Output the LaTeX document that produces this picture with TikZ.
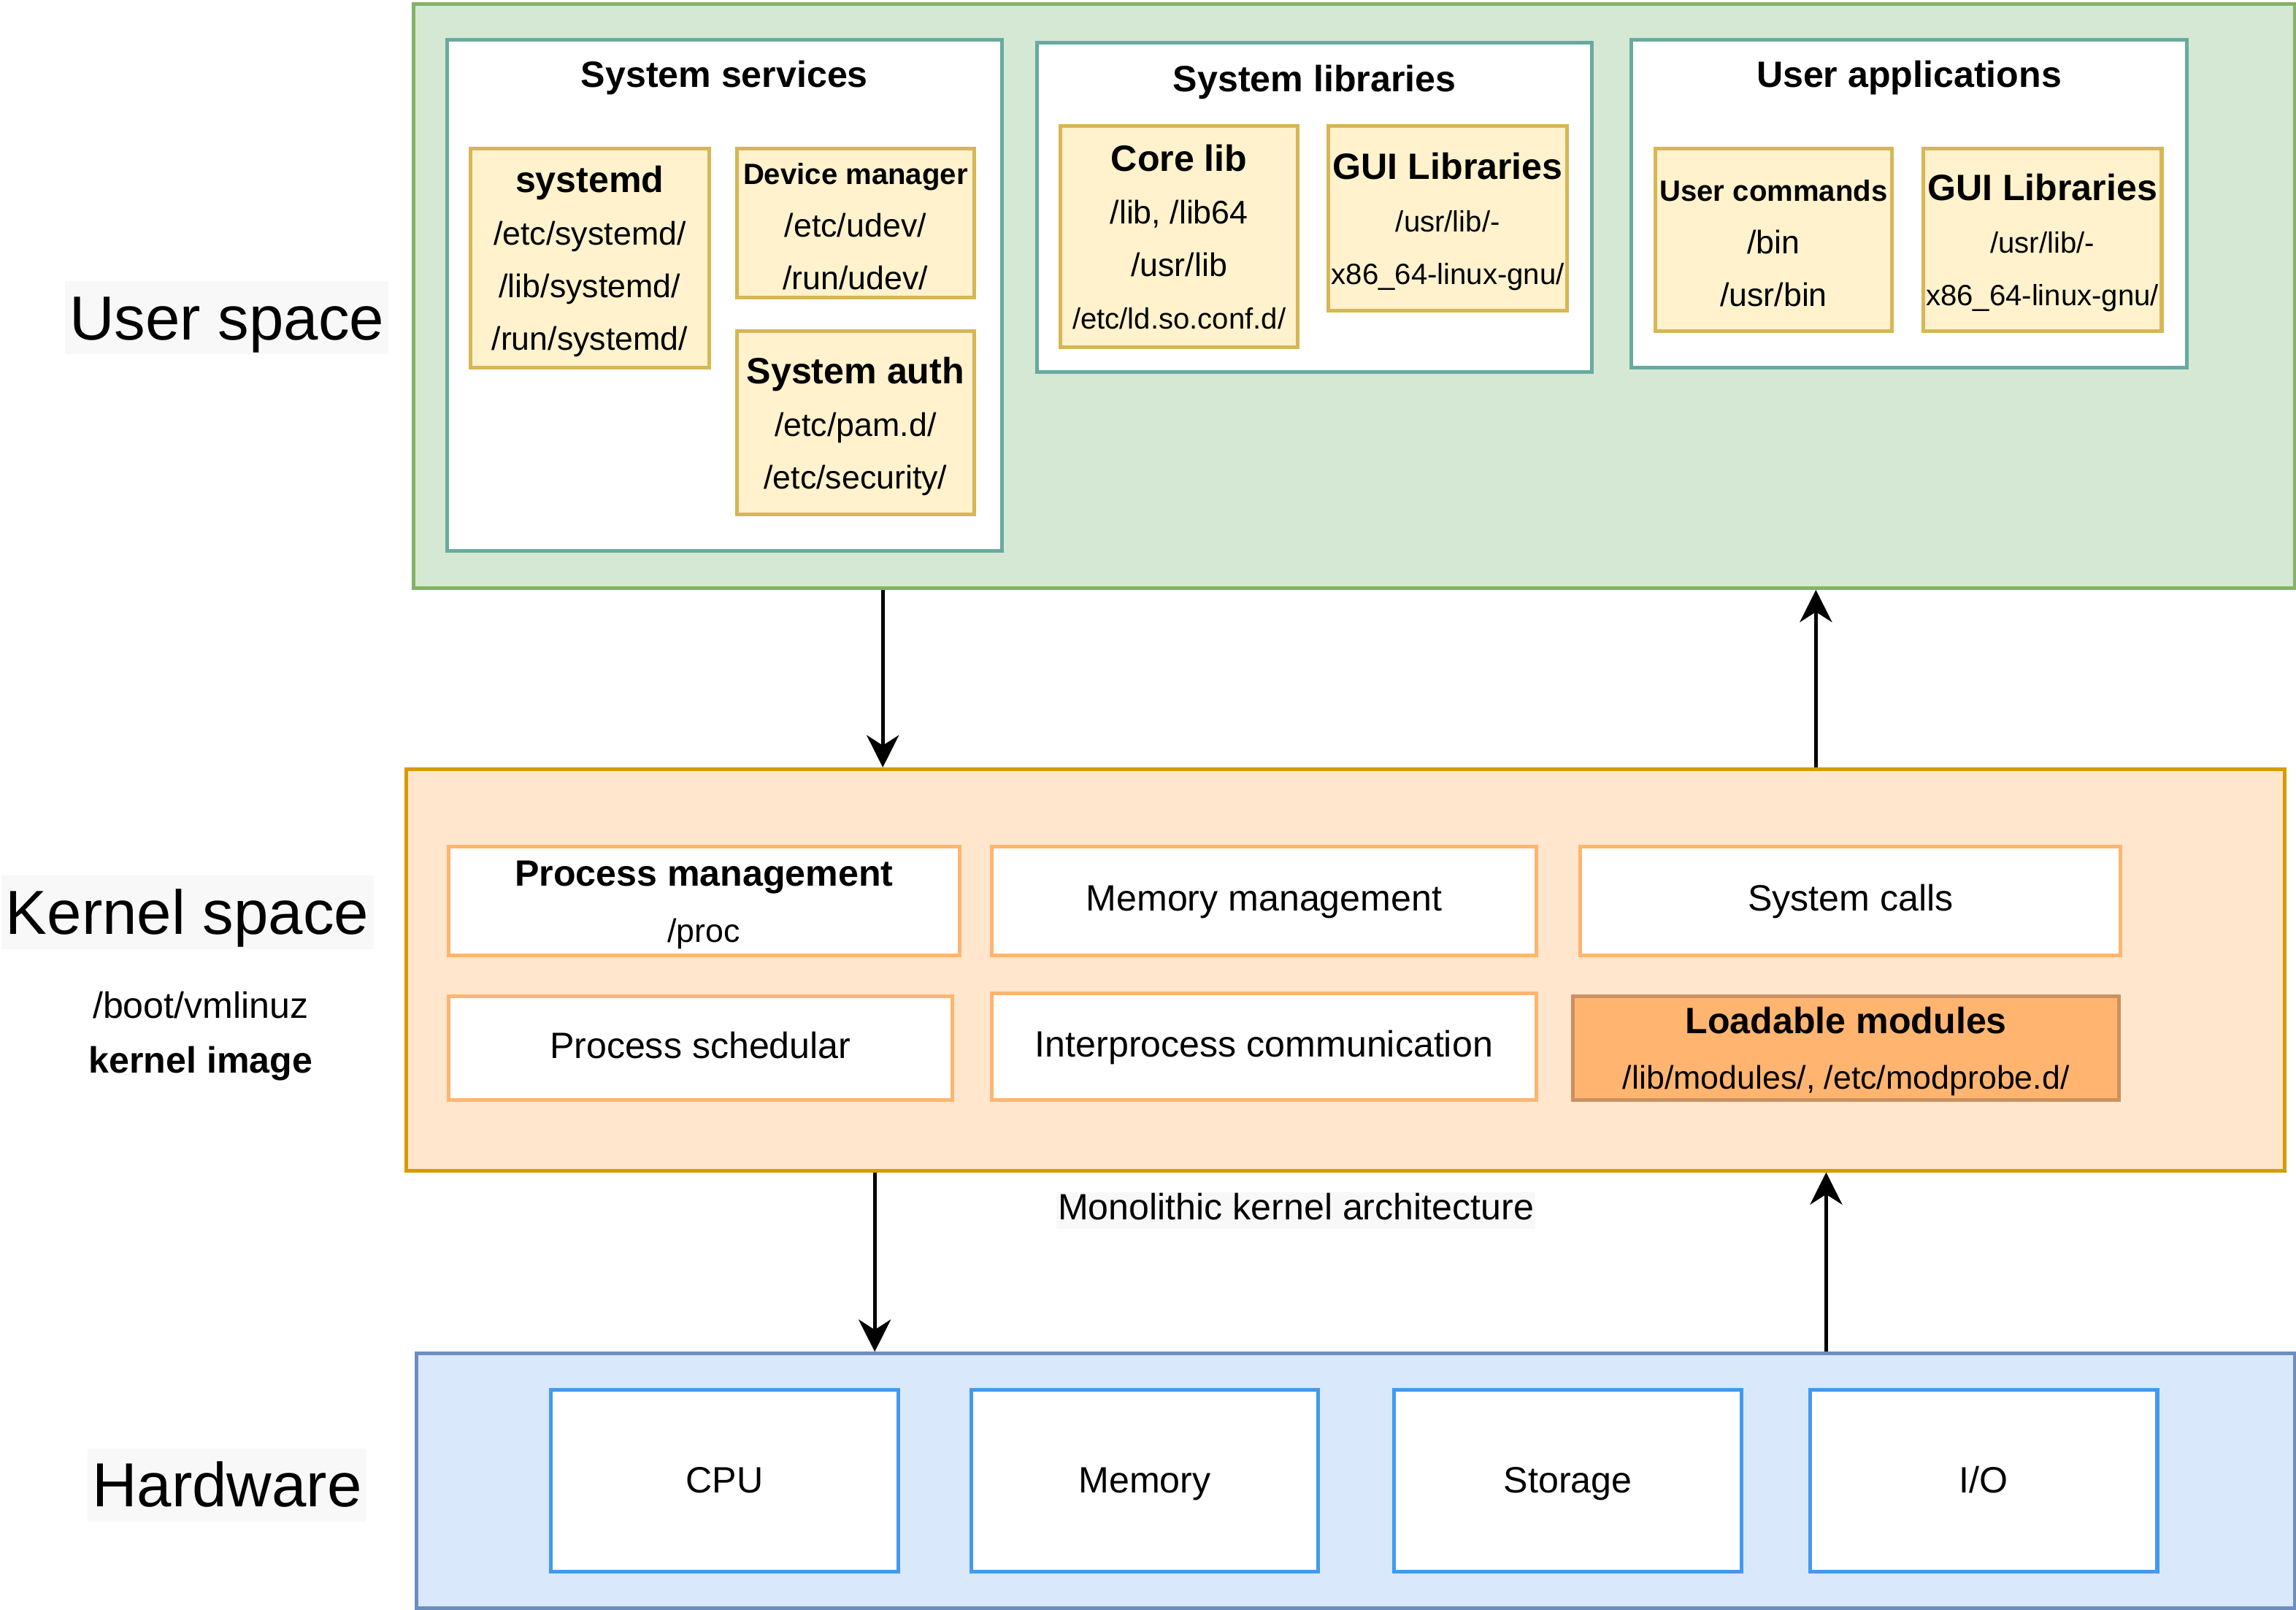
\documentclass[tikz,border=0pt]{standalone}
\usepackage{fontspec}
\setmainfont{Liberation Sans}
\usetikzlibrary{arrows.meta,calc}

\definecolor{usfill}{HTML}{D5E8D4}
\definecolor{usline}{HTML}{82B366}
\definecolor{grpline}{HTML}{67AB9F}
\definecolor{yelfill}{HTML}{FFF2CC}
\definecolor{yelline}{HTML}{D6B656}
\definecolor{ksfill}{HTML}{FFE6CC}
\definecolor{ksline}{HTML}{D79B00}
\definecolor{kinline}{HTML}{FFB570}
\definecolor{modfill}{HTML}{FFB570}
\definecolor{modline}{HTML}{CC9160}
\definecolor{hwfill}{HTML}{DAE8FC}
\definecolor{hwline}{HTML}{6C8EBF}
\definecolor{hwinline}{HTML}{4499EE}
\definecolor{sidebg}{HTML}{F8F8F8}

\newcommand{\hd}[1]{{\bfseries\fontsize{25}{36}\selectfont\rule{0pt}{23pt}#1}}
\newcommand{\hds}[1]{{\bfseries\fontsize{20}{36}\selectfont\rule{0pt}{24pt}#1}}
\newcommand{\pth}[1]{{\fontsize{22.3}{36}\selectfont #1}}
\newcommand{\pths}[1]{{\fontsize{20}{36}\selectfont #1}}
\newcommand{\dpt}{\rule[-5pt]{0pt}{5pt}}

\begin{document}
\begin{tikzpicture}[x=1pt,y=-1pt,
        box/.style={draw,line width=2.5pt,inner xsep=2pt,inner ysep=0pt,align=center,anchor=north west},
        group/.style={box,draw=grpline,fill=white},
        yel/.style={box,draw=yelline,fill=yelfill,font=\fontsize{22.3}{36}\selectfont},
        kern/.style={box,draw=kinline,fill=white,font=\fontsize{25}{38}\selectfont},
        kernone/.style={kern,text height=18pt,text depth=4.5pt},
        hw/.style={box,draw=hwinline,fill=white,text height=18pt,text depth=2pt,font=\fontsize{25}{30}\selectfont},
        grouptitle/.style={inner sep=0pt,anchor=base,font=\bfseries\fontsize{25}{30}\selectfont},
        side/.style={fill=sidebg,inner xsep=3pt,inner ysep=5pt,text height=35pt,text depth=5pt,font=\fontsize{42.5}{50}\selectfont},
        plain/.style={inner sep=1pt,text height=18pt,text depth=5pt,font=\fontsize{25}{30}\selectfont},
        arr/.style={-{Stealth[length=22pt,width=22pt,inset=7pt]},line width=2.5pt}]
        \useasboundingbox (0,0) rectangle (1568,1099.3);

        \node[box,draw=usline,fill=usfill,minimum width=1285,minimum height=399] (userspace) at (281,1.3) {};
        \node[group,minimum width=379,minimum height=349] (sysservices) at (304,26) {};
        \node[group,minimum width=379,minimum height=225] (syslibs) at (707,28) {};
        \node[group,minimum width=379,minimum height=224] (userapps) at (1113,26) {};
        \node[grouptitle] (sysservicestitle) at ([yshift=-33.5pt]sysservices.north) {System services};
        \node[grouptitle] (syslibstitle) at ([yshift=-34.5pt]syslibs.north) {System libraries};
        \node[grouptitle] (userappstitle) at ([yshift=-33.5pt]userapps.north) {User applications};

        \node[yel,minimum width=163,minimum height=150] (systemd) at (320,100) {\hd{systemd}\\/etc/systemd/\\/lib/systemd/\\/run/systemd/\dpt};
        \node[yel,minimum width=162,minimum height=102] (devmgr) at (502,100) {\hds{Device manager}\\/etc/udev/\\/run/udev/\dpt};
        \node[yel,minimum width=162,minimum height=125] (sysauth) at (502,225) {\hd{System auth}\\/etc/pam.d/\\/etc/security/\dpt};
        \node[yel,minimum width=162,minimum height=151] (corelib) at (723,85) {\hd{Core lib}\\/lib, /lib64\\/usr/lib\\\pths{/etc/ld.so.conf.d/}\dpt};
        \node[yel,minimum width=162,minimum height=126] (guisys) at (906,85) {\hd{GUI Libraries}\\\pths{/usr/lib/-}\\\pths{x86\_64-linux-gnu/}\dpt};
        \node[yel,minimum width=162,minimum height=125] (usercmd) at (1129,100) {\hds{User commands}\\/bin\\/usr/bin\dpt};
        \node[yel,minimum width=162,minimum height=125] (guiuser) at (1312,100) {\hd{GUI Libraries}\\\pths{/usr/lib/-}\\\pths{x86\_64-linux-gnu/}\dpt};

        \node[box,draw=ksline,fill=ksfill,minimum width=1283,minimum height=274] (kernelspace) at (276,524) {};
        \node[kern,minimum width=349,minimum height=74] (procmgmt) at (305,577) {\hd{Process management}\\\pth{/proc}\dpt};
        \node[kernone,minimum width=372,minimum height=74] (memmgmt) at (676,577) {Memory management};
        \node[kernone,minimum width=369,minimum height=74] (syscalls) at (1078,577) {System calls};
        \node[kernone,minimum width=344,minimum height=71] (sched) at (305,679) {Process schedular};
        \node[kernone,minimum width=372,minimum height=73] (ipc) at (676,677) {Interprocess communication};
        \node[kern,draw=modline,fill=modfill,minimum width=373,minimum height=71] (modules) at (1073,679) {\hd{Loadable modules}\\\pth{/lib/modules/, /etc/modprobe.d/}\dpt};

        \node[box,draw=hwline,fill=hwfill,minimum width=1283,minimum height=174] (hardware) at (283,923) {};
        \node[hw,minimum width=237,minimum height=124] (cpu) at (375,948) {CPU};
        \node[hw,minimum width=237,minimum height=124] (memory) at (662,948) {Memory};
        \node[hw,minimum width=237,minimum height=124] (storage) at (951,948) {Storage};
        \node[hw,minimum width=237,minimum height=124] (io) at (1235,948) {I/O};

        \node[side] (uslabel) at (155,217) {User space};
        \node[side] (kslabel) at (128,623) {Kernel space};
        \node[plain] (kimgpath) at (137,688.5) {/boot/vmlinuz};
        \node[plain,font=\bfseries\fontsize{25}{30}\selectfont] (kimglabel) at (137,726) {kernel image};
        \node[side] (hwlabel) at (155,1014) {Hardware};
        \node[plain,fill=sidebg] (archlabel) at (885,826.5) {Monolithic kernel architecture};

        \coordinate (usdown) at ($(userspace.south west)!0.25!(userspace.south east)$);
        \coordinate (ksup) at ($(kernelspace.north west)!0.75!(kernelspace.north east)$);
        \coordinate (ksdown) at ($(kernelspace.south west)!0.25!(kernelspace.south east)$);
        \coordinate (hwup) at ($(hardware.north west)!0.75!(hardware.north east)$);

        \draw[arr] (usdown) -- (usdown |- kernelspace.north);
        \draw[arr] (ksup) -- (ksup |- userspace.south);
        \draw[arr] (ksdown) -- (ksdown |- hardware.north);
        \draw[arr] (hwup) -- (hwup |- kernelspace.south);
    \end{tikzpicture}
\end{document}
